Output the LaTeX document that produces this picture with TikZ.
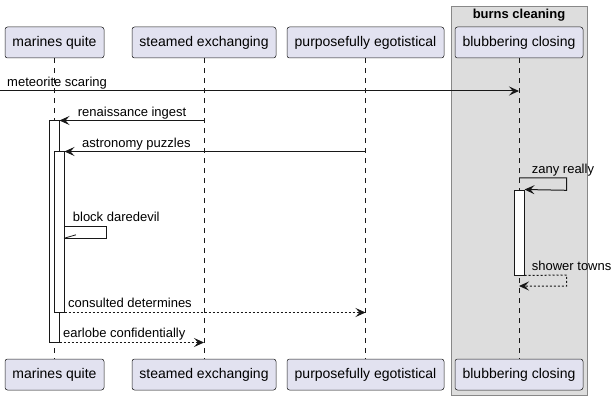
\documentclass[tikz,border=0pt]{standalone}
\usepackage{fontspec}
\setmainfont{Liberation Sans}
\usetikzlibrary{arrows.meta}
\definecolor{partfill}{HTML}{E2E2F0}
\definecolor{ln}{HTML}{181818}
\definecolor{grp}{HTML}{DDDDDD}
\definecolor{grpline}{HTML}{888888}
\tikzset{
  part/.style={draw=ln, line width=0.5pt, fill=partfill, rounded corners=2.5pt,
    minimum height=31pt, inner sep=0pt, font=\fontsize{14}{16}\selectfont},
  msg/.style={draw=ln, line width=1pt, -{Stealth[length=10pt,width=9pt,inset=4pt]}},
  ret/.style={msg, dash pattern=on 2pt off 2pt},
  lbl/.style={font=\fontsize{13}{15}\selectfont, inner sep=0pt, anchor=base west},
  act/.style={draw=ln, line width=1pt, fill=white, minimum width=10pt, inner sep=0pt},
  life/.style={draw=ln, line width=0.5pt, dash pattern=on 5pt off 5pt},
}
\begin{document}
\begin{tikzpicture}[x=1pt,y=-1pt]
\useasboundingbox (0,0) rectangle (616,401);
% group
\draw[fill=grp, draw=grpline, line width=0.8pt] (451,6) rectangle (587.3,395.5);
\node[font=\fontsize{13}{15}\selectfont\bfseries] (gt) at (519,15) {burns cleaning};
% participants
\node[part, minimum width=99pt] (mq) at (54.5,42.5) {marines quite};
\node[part, minimum width=144pt] (se) at (204,42.5) {steamed exchanging};
\node[part, minimum width=157pt] (pe) at (365.5,42.5) {purposefully egotistical};
\node[part, minimum width=128pt] (bc) at (519,42.5) {blubbering closing};
\node[part, minimum width=99pt] (mqb) at (54.5,374.5) {marines quite};
\node[part, minimum width=144pt] (seb) at (204,374.5) {steamed exchanging};
\node[part, minimum width=157pt] (peb) at (365.5,374.5) {purposefully egotistical};
\node[part, minimum width=128pt] (bcb) at (519,374.5) {blubbering closing};
% lifelines
\draw[life] (mq.south) -- (mqb.north);
\draw[life] (se.south) -- (seb.north);
\draw[life] (pe.south) -- (peb.north);
\draw[life] (bc.south) -- (bcb.north);
% activations
\node[act, minimum height=221pt] (a1) at (54,231.5) {};
\node[act, minimum height=160pt] (a2) at (59,232) {};
\node[act, minimum height=85pt] (a3) at (519,232.5) {};
% messages
\coordinate (src) at (0,91);
\draw[msg] (src) -- (bc |- src);
\node[lbl] (l1) at (7,86.5) {meteorite scaring};

\draw[msg] (se |- a1.north) -- (a1.north east);
\node[lbl] (l2) at (77.7,117) {renaissance ingest};

\draw[msg] (pe |- a2.north) -- (a2.north east);
\node[lbl] (l3) at (82,148) {astronomy puzzles};

\coordinate (s1) at (64,226);
\coordinate (s2) at (106.3,226);
\coordinate (s3) at (106.3,238.3);
\coordinate (s4) at (64,238.3);
\coordinate (s5) at (76,234.8);
\draw[draw=ln, line width=1pt] (s1) -- (s2) -- (s3) -- (s4);
\draw[draw=ln, line width=0.8pt] (s4) -- (s5);
\node[lbl] (l4) at (72.7,221.5) {block daredevil};

\coordinate (z1) at (bc |- 0,178);
\coordinate (z2) at (566.7,178);
\coordinate (z3) at (566.7,190.3);
\draw[msg] (z1) -- (z2) -- (z3) -- (a3.north east);
\node[lbl] (l5) at (531.7,173.5) {zany really};

\coordinate (w2) at (566.7,275);
\coordinate (w3) at (566.7,286);
\coordinate (w4) at (bc |- w3);
\draw[ret] (a3.south east) -- (w2) -- (w3) -- (w4);
\node[lbl] (l6) at (531.7,270) {shower towns};

\draw[ret] (a2.south east) -- (pe |- a2.south);
\node[lbl] (l7) at (68,307.5) {consulted determines};

\draw[ret] (a1.south east) -- (se |- a1.south);
\node[lbl] (l8) at (63,337) {earlobe confidentially};
\end{tikzpicture}
\end{document}
